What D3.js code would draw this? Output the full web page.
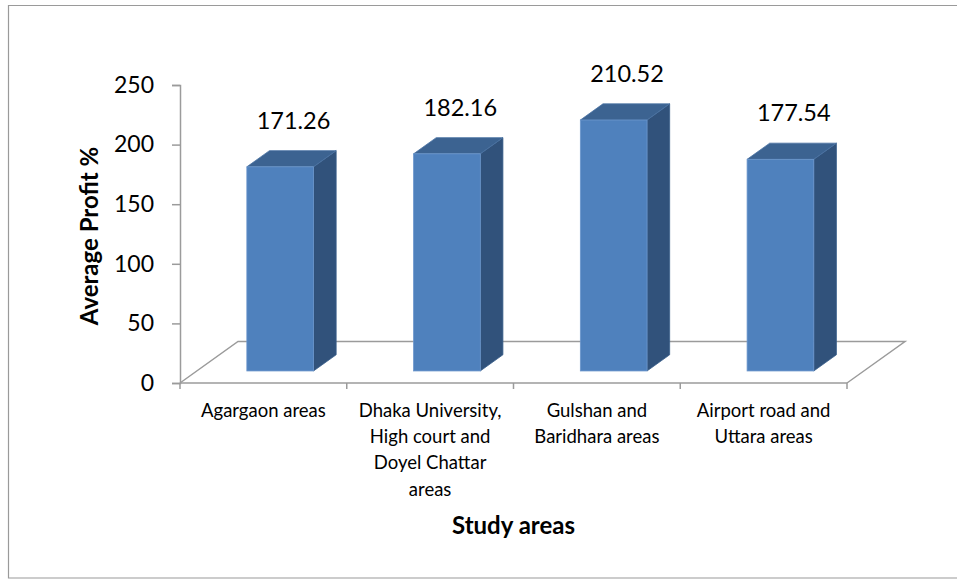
<!DOCTYPE html>
<html>
<head>
<meta charset="utf-8">
<script src="https://cdn.jsdelivr.net/npm/d3@7"></script>
<style>
  html, body { margin: 0; padding: 0; background: #ffffff; }
  svg { display: block; font-family: Lato, "Open Sans", sans-serif; }
</style>
</head>
<body>
<svg id="chart" width="957" height="579"></svg>
<script>
// Study areas and their average profit (%)
const categories = [
  "Agargaon areas",
  "Dhaka University, High court and Doyel Chattar areas",
  "Gulshan and Baridhara areas",
  "Airport road and Uttara areas"
];
const categoryLines = [
  ["Agargaon areas"],
  ["Dhaka University,", "High court and", "Doyel Chattar", "areas"],
  ["Gulshan and", "Baridhara areas"],
  ["Airport road and", "Uttara areas"]
];
const profits = [171.26, 182.16, 210.52, 177.54];
const yTicks = [0, 50, 100, 150, 200, 250];

const svg = d3.select("#chart");

// chart frame
svg.append("path")
  .attr("d", "M 960 5.5 H 8.5 V 578 H 960")
  .attr("fill", "none")
  .attr("stroke", "#9a9a9a")
  .attr("stroke-width", 1.2);

// front plane of the 3D plot
const x0 = 180, x1 = 847, yBase = 383, yTop = 85;
const floorDx = 58, floorDy = -41.5;      // floor depth
const barShift = 0.29, barDepth = 0.39;   // bar position inside the floor depth

const x = d3.scaleBand().domain(categories).range([x0, x1]).paddingInner(0).paddingOuter(0);
const y = d3.scaleLinear().domain([0, 250]).range([yBase, yTop]);

const gridColor = "#9b9b9b";

// floor outline
const floor = d3.path();
floor.moveTo(x0, yBase);
floor.lineTo(x0 + floorDx, yBase + floorDy);
floor.lineTo(x1 + floorDx, yBase + floorDy);
floor.lineTo(x1, yBase);
svg.append("path")
  .attr("d", floor.toString())
  .attr("fill", "none")
  .attr("stroke", gridColor)
  .attr("stroke-width", 1.5);

// value axis
const yAxis = svg.append("g")
  .attr("transform", `translate(${x0},0)`)
  .call(d3.axisLeft(y).tickValues(yTicks).tickSize(8).tickPadding(18).tickFormat(d3.format("d")));
yAxis.select(".domain").attr("stroke", gridColor).attr("stroke-width", 1.5);
yAxis.selectAll(".tick line").attr("stroke", gridColor).attr("stroke-width", 1.5);
yAxis.selectAll(".tick text")
  .attr("fill", "#000")
  .style("font-size", "23px")
  .style("font-family", "Lato, sans-serif");

// category axis along the front edge of the floor
const xAxis = svg.append("g")
  .attr("transform", `translate(0,${yBase})`);
xAxis.append("line")
  .attr("x1", x0).attr("x2", x1).attr("y1", 0).attr("y2", 0)
  .attr("stroke", gridColor).attr("stroke-width", 1.5);
const bandEdges = categories.map(c => x(c)).concat([x1]);
xAxis.selectAll("line.tick")
  .data(bandEdges)
  .join("line")
  .attr("class", "tick")
  .attr("x1", d => d).attr("x2", d => d)
  .attr("y1", 0).attr("y2", 6)
  .attr("stroke", gridColor).attr("stroke-width", 1.5);

const labels = xAxis.selectAll("text.cat")
  .data(categories)
  .join("text")
  .attr("class", "cat")
  .attr("text-anchor", "middle")
  .attr("fill", "#000")
  .style("font-size", "18.5px")
  .attr("transform", d => `translate(${x(d) + x.bandwidth() / 2},${34})`);
labels.selectAll("tspan")
  .data((d, i) => categoryLines[i])
  .join("tspan")
  .attr("x", 0)
  .attr("y", (d, i) => i * 26.2)
  .text(d => d);

// 3D columns
const bw = x.bandwidth() * 0.4;
const sdx = floorDx * barShift, sdy = floorDy * barShift;
const ddx = floorDx * barDepth, ddy = floorDy * barDepth;

const bars = svg.selectAll("g.bar")
  .data(categories.map((c, i) => ({ c, v: profits[i] })))
  .join("g")
  .attr("class", "bar");

bars.each(function(d) {
  const g = d3.select(this);
  const left = x(d.c) + (x.bandwidth() - bw) / 2 + sdx;
  const right = left + bw;
  const bottom = y(0) + sdy;
  const top = y(d.v) + sdy;

  // side face
  g.append("path")
    .attr("d", `M${right},${bottom} L${right + ddx},${bottom + ddy} L${right + ddx},${top + ddy} L${right},${top} Z`)
    .attr("fill", "#31527b")
    .attr("stroke", "#3a5f8c").attr("stroke-width", 0.8);
  // top face
  g.append("path")
    .attr("d", `M${left},${top} L${left + ddx},${top + ddy} L${right + ddx},${top + ddy} L${right},${top} Z`)
    .attr("fill", "#3c6391")
    .attr("stroke", "#4a72a3").attr("stroke-width", 0.8);
  // front face
  g.append("rect")
    .attr("x", left).attr("y", top)
    .attr("width", bw).attr("height", bottom - top)
    .attr("fill", "#4f81bd")
    .attr("stroke", "#6b96cc").attr("stroke-width", 0.8);

  // value label
  g.append("text")
    .attr("x", left + bw / 2 + ddx / 2 + 2)
    .attr("y", top + ddy - 22)
    .attr("text-anchor", "middle")
    .attr("fill", "#000")
    .style("font-size", "23.5px")
    .text(d3.format(".2f")(d.v));
});

// axis titles
svg.append("text")
  .attr("x", (x0 + x1) / 2)
  .attr("y", 534)
  .attr("text-anchor", "middle")
  .style("font-size", "24px")
  .style("font-weight", "bold")
  .text("Study areas");

svg.append("text")
  .attr("transform", `translate(98,${(yBase + yTop) / 2 + 2}) rotate(-90)`)
  .attr("text-anchor", "middle")
  .style("font-size", "24px")
  .style("font-weight", "bold")
  .text("Average Profit %");
</script>
</body>
</html>
